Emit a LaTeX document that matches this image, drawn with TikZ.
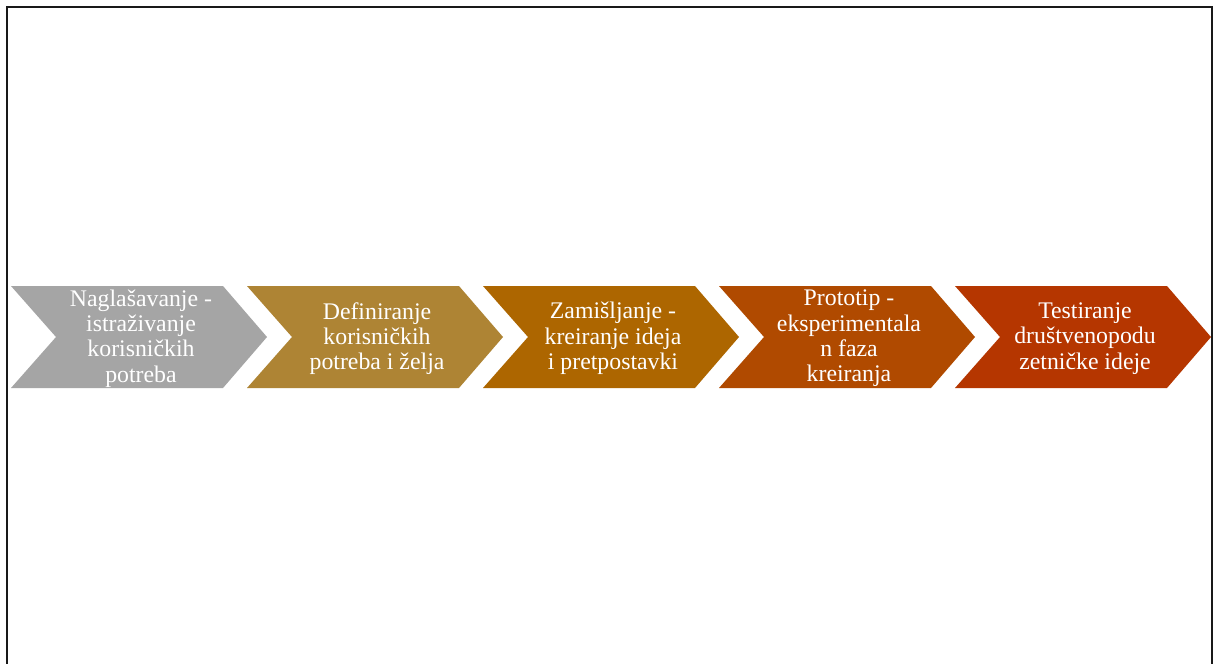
\documentclass[tikz,border=0pt]{standalone}
\usepackage{fontspec}
\setmainfont{Liberation Serif}
\definecolor{cA}{RGB}{165,165,165}
\definecolor{cB}{RGB}{174,132,52}
\definecolor{cC}{RGB}{173,102,0}
\definecolor{cD}{RGB}{176,74,0}
\definecolor{cE}{RGB}{181,54,0}
\tikzset{
  chevlabel/.style={text=white, align=center, inner sep=0pt,
    font=\fontsize{23.8}{25.3}\selectfont},
  frameline/.style={draw=black!90, line width=1.8pt}
}
\begin{document}
\begin{tikzpicture}[x=1pt,y=-1pt]
\useasboundingbox (0,0) rectangle (1213,664);
\fill[white] (0,0) rectangle (1213,664);
\draw[frameline] (7,665) -- (7,7) -- (1212,7) -- (1212,665);
\foreach \L/\col/\name/\txt in {
  11/cA/s1/{Naglašavanje -\\istraživanje\\korisničkih\\potreba},
  247/cB/s2/{Definiranje\\korisničkih\\potreba i želja},
  483/cC/s3/{Zamišljanje -\\kreiranje ideja\\i pretpostavki},
  719/cD/s4/{Prototip -\\eksperimentala\\n faza\\kreiranja},
  955/cE/s5/{Testiranje\\društvenopodu\\zetničke ideje}}{
  \fill[\col] (\L,286) -- (\L+212,286) -- (\L+256,337) -- (\L+212,388)
     -- (\L,388) -- (\L+45,337) -- cycle;
  \node[chevlabel] (\name) at (\L+130,338.5) {\txt};
}
\end{tikzpicture}
\end{document}
